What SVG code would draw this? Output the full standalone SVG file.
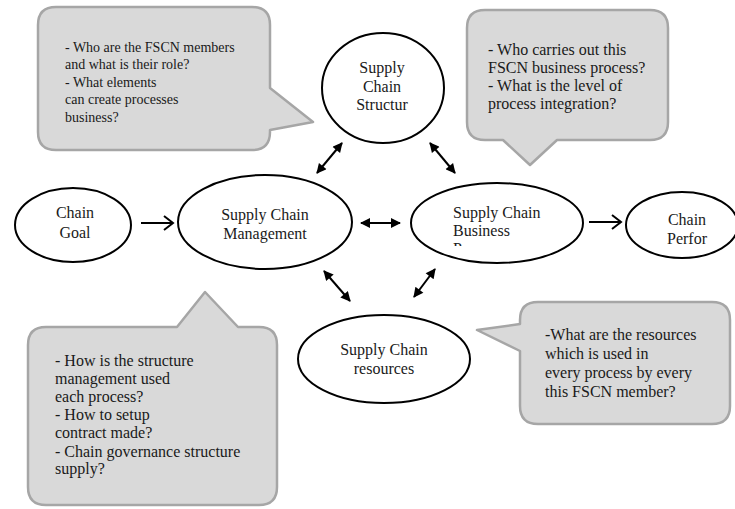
<svg xmlns="http://www.w3.org/2000/svg" width="735" height="509" viewBox="0 0 735 509">
<style>
.callout{fill:#d9d9d9;stroke:#a6a6a6;stroke-width:2.5;stroke-linejoin:round}
.node{fill:#fff;stroke:#000;stroke-width:2}
.t{font-family:"Liberation Serif","Times New Roman",serif;fill:#1a1a1a}
.c14{font-size:14px}
.c16{font-size:16px}
.mid{text-anchor:middle}
.conn{stroke:#000;stroke-width:2;fill:none}
</style>
<defs>
<marker id="ah" viewBox="0 0 10 10" refX="9" refY="5" markerWidth="6" markerHeight="5" markerUnits="strokeWidth" orient="auto-start-reverse">
<path d="M0,0 L10,5 L0,10 Z" fill="#000"/>
</marker>
<clipPath id="clipBP"><rect x="440" y="190" width="120" height="56"/></clipPath>
</defs>

<g id="callout-structure">
<path class="callout" d="M56,7 H252 Q270,7 270,25 V88 L313,122 L270,130 V132 Q270,150 252,150 H56 Q38,150 38,132 V25 Q38,7 56,7 Z"/>
<text class="t c14" x="65" y="52">- Who are the FSCN members</text>
<text class="t c14" x="65" y="69">and what is their role?</text>
<text class="t c14" x="65" y="87">- What elements</text>
<text class="t c14" x="65" y="104">can create processes</text>
<text class="t c14" x="65" y="122">business?</text>
</g>

<g id="callout-process">
<path class="callout" d="M485,10 H650 Q668,10 668,28 V122 Q668,140 650,140 H557 L530,165 L503,140 H485 Q467,140 467,122 V28 Q467,10 485,10 Z"/>
<text class="t c16" x="488" y="55">- Who carries out this</text>
<text class="t c16" x="488" y="73">FSCN business process?</text>
<text class="t c16" x="488" y="91">- What is the level of</text>
<text class="t c16" x="488" y="109">process integration?</text>
</g>

<g id="callout-management">
<path class="callout" d="M46,327 H177 L205,292 L238,327 H259 Q277,327 277,345 V487 Q277,505 259,505 H46 Q28,505 28,487 V345 Q28,327 46,327 Z"/>
<text class="t c16" x="55" y="366">- How is the structure</text>
<text class="t c16" x="55" y="384">management used</text>
<text class="t c16" x="55" y="402">each process?</text>
<text class="t c16" x="55" y="420">- How to setup</text>
<text class="t c16" x="55" y="438">contract made?</text>
<text class="t c16" x="55" y="457">- Chain governance structure</text>
<text class="t c16" x="55" y="474">supply?</text>
</g>

<g id="callout-resources">
<path class="callout" d="M538,302 H712 Q730,302 730,320 V406 Q730,424 712,424 H538 Q520,424 520,406 V351 L477,330 L520,324 V320 Q520,302 538,302 Z"/>
<text class="t c16" x="545" y="340">-What are the resources</text>
<text class="t c16" x="545" y="359">which is used in</text>
<text class="t c16" x="545" y="378">every process by every</text>
<text class="t c16" x="545" y="397">this FSCN member?</text>
</g>

<g id="node-structure">
<ellipse class="node" cx="383" cy="88" rx="61" ry="55"/>
<text class="t c16 mid" x="382" y="73">Supply</text>
<text class="t c16 mid" x="382" y="92">Chain</text>
<text class="t c16 mid" x="382" y="110">Structur</text>
</g>

<g id="node-goal">
<ellipse class="node" cx="73" cy="225" rx="58" ry="37"/>
<text class="t c16 mid" x="75" y="218">Chain</text>
<text class="t c16 mid" x="75" y="238">Goal</text>
</g>

<g id="node-management">
<ellipse class="node" cx="265" cy="222" rx="87" ry="47"/>
<text class="t c16 mid" x="265" y="220">Supply Chain</text>
<text class="t c16 mid" x="265" y="239">Management</text>
</g>

<g id="node-business">
<ellipse class="node" cx="497" cy="223" rx="86" ry="40"/>
<g clip-path="url(#clipBP)">
<text class="t c16" x="453" y="218">Supply Chain</text>
<text class="t c16" x="453" y="236">Business</text>
<text class="t c16" x="453" y="254">Process</text>
</g>
</g>

<g id="node-performance">
<ellipse class="node" cx="682" cy="225" rx="56" ry="33"/>
<text class="t c16 mid" x="687" y="225">Chain</text>
<text class="t c16 mid" x="687" y="244">Perfor</text>
</g>

<g id="node-resources">
<ellipse class="node" cx="384" cy="359" rx="86" ry="44"/>
<text class="t c16 mid" x="384" y="355">Supply Chain</text>
<text class="t c16 mid" x="384" y="374">resources</text>
</g>

<g id="connectors">
<path class="conn" d="M141,223 H173 M164,216 L173,223 L164,230"/>
<path class="conn" d="M589,222 H621 M612,215 L621,222 L612,229"/>
<line class="conn" x1="361" y1="223" x2="400" y2="223" marker-start="url(#ah)" marker-end="url(#ah)"/>
<line class="conn" x1="317" y1="173" x2="342" y2="143" marker-start="url(#ah)" marker-end="url(#ah)"/>
<line class="conn" x1="430" y1="143" x2="455" y2="173" marker-start="url(#ah)" marker-end="url(#ah)"/>
<line class="conn" x1="324" y1="271" x2="350" y2="301" marker-start="url(#ah)" marker-end="url(#ah)"/>
<line class="conn" x1="435" y1="269" x2="414" y2="297" marker-start="url(#ah)" marker-end="url(#ah)"/>
</g>
</svg>
